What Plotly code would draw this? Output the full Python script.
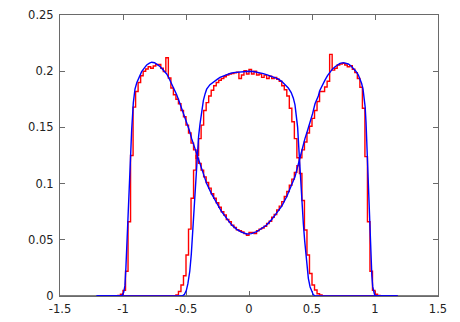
import numpy as np
import plotly.graph_objects as go

RED = "#ff0000"
BLUE = "#0000ff"
FRAME = "#6a6a6a"

# histogram bins: left edges from -1.20 in steps of 0.02, last right edge 1.18
BIN_START = -1.20
BIN_WIDTH = 0.02

# red step histogram, two-peaked distribution
hist_a = [
    0, 0, 0, 0, 0, 0, 0, 0, 0.0005, 0.0015,
    0.005, 0.022, 0.066, 0.125, 0.168, 0.182, 0.190, 0.196, 0.200, 0.202,
    0.204, 0.2026, 0.2046, 0.206, 0.206, 0.2026, 0.1996, 0.212, 0.194, 0.185,
    0.179, 0.175, 0.171, 0.165, 0.1595, 0.152, 0.145, 0.136, 0.130, 0.1225,
    0.118, 0.112, 0.106, 0.101, 0.096, 0.091, 0.087, 0.083, 0.079, 0.075,
    0.072, 0.068, 0.066, 0.063, 0.061, 0.059, 0.058, 0.057, 0.0555, 0.054,
    0.0565, 0.0565, 0.0555, 0.058, 0.0595, 0.0605, 0.062, 0.0645, 0.0665, 0.070,
    0.0725, 0.0765, 0.080, 0.084, 0.0885, 0.093, 0.0985, 0.104, 0.110, 0.116,
    0.123, 0.130, 0.137, 0.145, 0.151, 0.158, 0.165, 0.173, 0.182, 0.182,
    0.186, 0.191, 0.215, 0.201, 0.2026, 0.2055, 0.2064, 0.207, 0.2055, 0.204,
    0.205, 0.2017, 0.1987, 0.1935, 0.1857, 0.167, 0.124, 0.066, 0.022, 0.005,
    0.0015, 0.0005, 0, 0, 0, 0, 0, 0, 0,
]

# red step histogram, flat-topped distribution
hist_b = [
    0, 0, 0, 0, 0, 0, 0, 0, 0, 0,
    0, 0, 0, 0, 0, 0, 0, 0, 0, 0,
    0, 0, 0, 0, 0, 0, 0, 0, 0, 0,
    0, 0.001, 0.004, 0.0098, 0.018, 0.0365, 0.0595, 0.087, 0.112, 0.125,
    0.140, 0.152, 0.165, 0.172, 0.178, 0.183, 0.187, 0.190, 0.192, 0.1935,
    0.195, 0.1966, 0.1975, 0.198, 0.1985, 0.199, 0.1935, 0.1966, 0.2005, 0.1975,
    0.2015, 0.1975, 0.200, 0.1966, 0.1975, 0.1945, 0.1965, 0.1935, 0.1955, 0.1935,
    0.1945, 0.1928, 0.191, 0.187, 0.1835, 0.178, 0.167, 0.155, 0.140, 0.123,
    0.109, 0.085, 0.0587, 0.0365, 0.020, 0.0098, 0.0053, 0.002, 0.001, 0,
    0, 0, 0, 0, 0, 0, 0, 0, 0, 0,
    0, 0, 0, 0, 0, 0, 0, 0, 0, 0,
    0, 0, 0, 0, 0, 0, 0, 0, 0,
]

# blue fitted curve, two-peaked
curve_a_x = [
    -1.21, -1.01, -0.995, -0.985, -0.977, -0.966, -0.952, -0.941, -0.931, -0.918,
    -0.905, -0.89, -0.878, -0.852, -0.83, -0.812, -0.79, -0.772, -0.75, -0.733,
    -0.713, -0.693, -0.673, -0.653, -0.634, -0.614, -0.594, -0.574, -0.554, -0.534,
    -0.514, -0.494, -0.475, -0.455, -0.435, -0.415, -0.395, -0.375, -0.355, -0.336,
    -0.30, -0.256, -0.22, -0.177, -0.14, -0.098, -0.06, -0.018, 0.02, 0.061,
    0.10, 0.14, 0.18, 0.22, 0.26, 0.299, 0.33, 0.365, 0.40, 0.42,
    0.444, 0.464, 0.484, 0.504, 0.524, 0.537, 0.55, 0.563, 0.583, 0.603,
    0.623, 0.643, 0.663, 0.683, 0.703, 0.722, 0.749, 0.77, 0.788, 0.808,
    0.828, 0.848, 0.868, 0.882, 0.894, 0.905, 0.915, 0.922, 0.929, 0.939,
    0.947, 0.955, 0.962, 0.968, 0.975, 0.982, 0.995, 1.005, 1.18,
]
curve_a_y = [
    0, 0, 0.003, 0.009, 0.025, 0.056, 0.094, 0.125, 0.148, 0.172,
    0.184, 0.19, 0.1935, 0.1996, 0.203, 0.2055, 0.2072, 0.208, 0.2075, 0.2064,
    0.2048, 0.2026, 0.2002, 0.1975, 0.1935, 0.189, 0.184, 0.179, 0.173, 0.167,
    0.161, 0.155, 0.148, 0.140, 0.1335, 0.127, 0.12, 0.1136, 0.1065, 0.100,
    0.0915, 0.0825, 0.0755, 0.069, 0.0635, 0.0593, 0.0568, 0.0552, 0.0555, 0.0572,
    0.0598, 0.0632, 0.068, 0.0735, 0.080, 0.0883, 0.0965, 0.106, 0.121, 0.130,
    0.140, 0.147, 0.154, 0.162, 0.171, 0.174, 0.178, 0.183, 0.188, 0.192,
    0.196, 0.1996, 0.202, 0.204, 0.2058, 0.207, 0.2076, 0.2072, 0.2064, 0.2048,
    0.2026, 0.2, 0.1966, 0.193, 0.189, 0.184, 0.177, 0.168, 0.154, 0.124,
    0.100, 0.0706, 0.048, 0.032, 0.018, 0.0083, 0.0018, 0, 0,
]

# blue fitted curve, flat-topped
curve_b_x = [
    -1.21, -0.53, -0.512, -0.497, -0.485, -0.47, -0.458, -0.448, -0.437, -0.428,
    -0.42, -0.41, -0.40, -0.389, -0.375, -0.362, -0.348, -0.336, -0.31, -0.283,
    -0.25, -0.23, -0.2, -0.177, -0.15, -0.125, -0.08, -0.045, 0.0, 0.034,
    0.07, 0.114, 0.15, 0.193, 0.23, 0.259, 0.285, 0.312, 0.335, 0.352,
    0.365, 0.378, 0.386, 0.392, 0.40, 0.41, 0.42, 0.431, 0.442, 0.452,
    0.462, 0.471, 0.485, 0.497, 0.51, 0.524, 1.18,
]
curve_b_y = [
    0, 0, 0.0015, 0.005, 0.011, 0.022, 0.037, 0.056, 0.074, 0.092,
    0.108, 0.128, 0.142, 0.153, 0.166, 0.174, 0.180, 0.184, 0.188, 0.1905,
    0.193, 0.1945, 0.196, 0.1972, 0.198, 0.1987, 0.1993, 0.1997, 0.2, 0.1997,
    0.199, 0.1978, 0.1965, 0.195, 0.1932, 0.191, 0.188, 0.185, 0.181, 0.176,
    0.170, 0.160, 0.15, 0.138, 0.121, 0.100, 0.082, 0.0647, 0.049, 0.035,
    0.024, 0.0157, 0.008, 0.0038, 0.0012, 0, 0,
]

X_TICKS = [-1.5, -1, -0.5, 0, 0.5, 1, 1.5]
X_LABELS = ["-1.5", "-1", "-0.5", "0", "0.5", "1", "1.5"]
Y_TICKS = [0, 0.05, 0.1, 0.15, 0.2, 0.25]
Y_LABELS = ["0", "0.05", "0.1", "0.15", "0.2", "0.25"]


def _step_trace(values, color):
    edges = np.round(BIN_START + BIN_WIDTH * np.arange(len(values) + 1), 2)
    return go.Scatter(
        x=edges,
        y=list(values) + [values[-1]],
        mode="lines",
        line={"color": color, "width": 1.4, "shape": "hv"},
        hoverinfo="skip",
    )


fig = go.Figure()
fig.add_trace(_step_trace(hist_a, RED))
fig.add_trace(_step_trace(hist_b, RED))
fig.add_trace(go.Scatter(x=curve_a_x, y=curve_a_y, mode="lines", line={"color": BLUE, "width": 1.4}))
fig.add_trace(go.Scatter(x=curve_b_x, y=curve_b_y, mode="lines", line={"color": BLUE, "width": 1.4}))

axis_common = dict(
    showgrid=False,
    zeroline=False,
    showline=True,
    linecolor=FRAME,
    linewidth=1,
    mirror="ticks",
    ticks="inside",
    ticklen=5,
    tickwidth=1,
    tickcolor=FRAME,
    layer="below traces",
    tickfont={"family": "DejaVu Sans", "size": 11.5, "color": "#222222"},
)

fig.update_layout(
    width=460,
    height=322,
    plot_bgcolor="white",
    paper_bgcolor="white",
    showlegend=False,
    margin={"l": 60, "r": 22, "t": 15, "b": 26, "autoexpand": False},
    xaxis=dict(range=[-1.5, 1.5], tickvals=X_TICKS, ticktext=X_LABELS, ticklabelstandoff=2, **axis_common),
    yaxis=dict(range=[0, 0.25], tickvals=Y_TICKS, ticktext=Y_LABELS, ticklabelstandoff=3, **axis_common),
)
# the bottom border is drawn darker than the rest of the frame
fig.add_shape(
    type="line", xref="paper", yref="paper", x0=0, x1=1, y0=0, y1=0,
    line={"color": "#000000", "width": 1.2}, layer="below",
)

fig.write_html(
    "out.html",
    config={"displayModeBar": False},
    post_script="document.body.style.margin='0';",
)
